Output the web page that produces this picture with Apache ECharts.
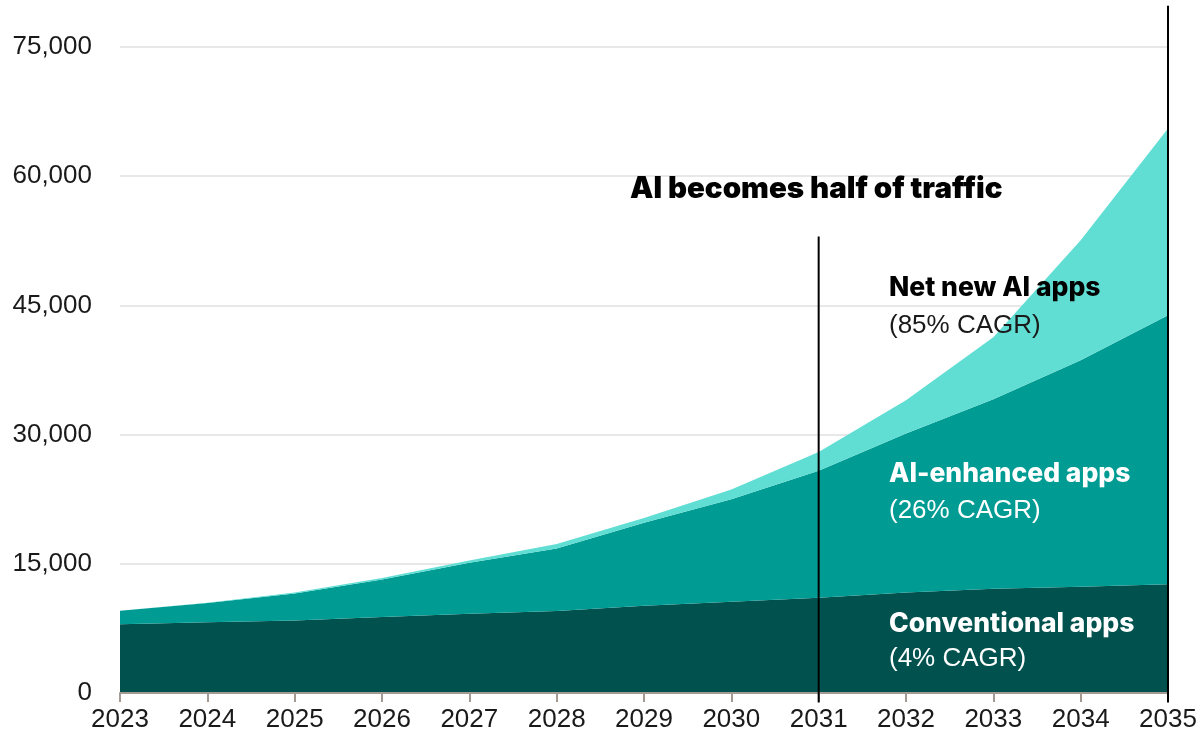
<!DOCTYPE html>
<html>
<head>
<meta charset="utf-8">
<script src="https://cdn.jsdelivr.net/npm/echarts@6/dist/echarts.min.js"></script>
<style>html,body{margin:0;padding:0;background:#fff}#c{width:1204px;height:745px}</style>
</head>
<body>
<div id="c"></div>
<script>
const years = ['2023','2024','2025','2026','2027','2028','2029','2030','2031','2032','2033','2034','2035'];
const conventional = [7970, 8200, 8430, 8820, 9200, 9510, 10130, 10600, 11060, 11680, 12100, 12330, 12640];
const aiEnhanced   = [1580, 2240, 3130, 4370, 5920, 7280, 9630, 11900, 14730, 18440, 22000, 26300, 31210];
const netNewAI     = [0, 50, 100, 150, 250, 500, 550, 1130, 2200, 3870, 7200, 13920, 21690];
const yTicks = [0, 15000, 30000, 45000, 60000, 75000];
const seriesNames = ['Conventional apps', 'AI-enhanced apps', 'Net new AI apps'];
const colors = ['#01524e', '#009c94', '#60ded4'];
// vertical reference lines: [year, top value, bottom value]
const halfLine = [['2031', 53000], ['2031', -1100]];
const endLine = [['2035', 79800], ['2035', -1100]];

const chart = echarts.init(document.getElementById('c'));
const font = '"Liberation Sans", Arial, sans-serif';
const heavy = 'Inter, "Liberation Sans", sans-serif';

function area(name, data, color) {
  return {
    name, type: 'line', stack: 'total', data,
    symbol: 'none', showSymbol: false, smooth: false,
    lineStyle: { width: 0 }, areaStyle: { color, opacity: 1 },
    itemStyle: { color }, z: 2, silent: true
  };
}
function vline(data) {
  return {
    type: 'line', data, symbol: 'none', showSymbol: false, clip: false,
    lineStyle: { color: '#000', width: 2 }, z: 6, silent: true
  };
}

chart.setOption({
  animation: false,
  grid: { left: 120, right: 36, top: 47, bottom: 52, containLabel: false },
  xAxis: {
    type: 'category', data: years, boundaryGap: false,
    axisLine: { lineStyle: { color: '#a39a93', width: 2 } },
    axisTick: { show: true, length: 9, alignWithLabel: true, lineStyle: { color: '#a39a93', width: 2 } },
    axisLabel: { color: '#1a1a1a', fontSize: 26, fontFamily: font, margin: 14 },
    splitLine: { show: false }, z: 5
  },
  yAxis: {
    type: 'value', min: yTicks[0], max: yTicks[yTicks.length - 1], interval: yTicks[1] - yTicks[0],
    axisLine: { show: false }, axisTick: { show: false },
    axisLabel: { color: '#1a1a1a', fontSize: 26, fontFamily: font, margin: 28,
      formatter: v => v.toLocaleString('en-US') },
    splitLine: { lineStyle: { color: '#e8e8e8', width: 2 } }
  },
  series: [
    area(seriesNames[0], conventional, colors[0]),
    area(seriesNames[1], aiEnhanced, colors[1]),
    area(seriesNames[2], netNewAI, colors[2]),
    vline(halfLine),
    vline(endLine)
  ],
  graphic: [
    { type: 'text', left: 630, top: 174, z: 10, style: { text: 'AI becomes half of traffic', fill: '#000', font: '900 29.5px ' + heavy } },
    { type: 'text', left: 889, top: 275, z: 10, style: { text: 'Net new AI apps', fill: '#000', font: '800 26.5px ' + heavy } },
    { type: 'text', left: 889, top: 313, z: 10, style: { text: '(85% CAGR)', fill: '#1a1a1a', font: '26px ' + font } },
    { type: 'text', left: 889, top: 461, z: 10, style: { text: 'AI-enhanced apps', fill: '#fff', font: '800 26.5px ' + heavy } },
    { type: 'text', left: 889, top: 498, z: 10, style: { text: '(26% CAGR)', fill: '#fff', font: '26px ' + font } },
    { type: 'text', left: 889, top: 611, z: 10, style: { text: 'Conventional apps', fill: '#fff', font: '800 26.5px ' + heavy } },
    { type: 'text', left: 889, top: 646, z: 10, style: { text: '(4% CAGR)', fill: '#fff', font: '26px ' + font } }
  ]
});
</script>
</body>
</html>
